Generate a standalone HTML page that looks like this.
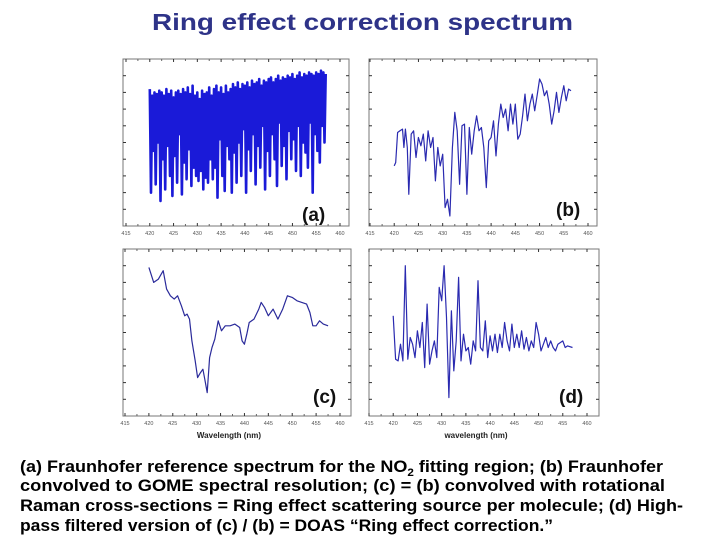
<!DOCTYPE html>
<html><head><meta charset="utf-8"><style>
html,body{margin:0;padding:0;background:#fff;width:720px;height:540px;overflow:hidden}
svg{display:block;font-family:"Liberation Sans",sans-serif}
</style></head><body>
<svg id="root" width="720" height="540" viewBox="0 0 720 540">
<text x="152" y="30" font-size="23" font-weight="bold" fill="#2e3388" textLength="421" lengthAdjust="spacingAndGlyphs">Ring effect correction spectrum</text>
<g id="panels"></g>
<g font-weight="bold" font-size="17" fill="#000">
<text x="20" y="472" textLength="643" lengthAdjust="spacingAndGlyphs">(a) Fraunhofer reference spectrum for the NO<tspan font-size="11" dy="4">2</tspan><tspan dy="-4"> fitting region; (b) Fraunhofer</tspan></text>
<text x="20" y="491" textLength="645" lengthAdjust="spacingAndGlyphs">convolved to GOME spectral resolution; (c) = (b) convolved with rotational</text>
<text x="20" y="511" textLength="663" lengthAdjust="spacingAndGlyphs">Raman cross-sections = Ring effect scattering source per molecule; (d) High-</text>
<text x="20" y="531" textLength="533" lengthAdjust="spacingAndGlyphs">pass filtered version of (c) / (b) = DOAS “Ring effect correction.”</text>
</g>
</svg>
<script>
// ---- data ----
var tickLabels = [415,420,425,430,435,440,445,450,455,460];
// (a) Fraunhofer reference: wavelengths every 0.25 nm from 420, relative values 0-100
var aStart = 420, aStep = 0.25;
var aValues = [82,20,78,45,80,25,79,50,81,15,80,40,78,22,82,48,79,30,81,18,77,42,80,26,81,55,79,19,82,38,80,28,83,46,79,24,84,35,78,30,80,27,76,33,81,22,79,29,80,26,83,40,78,28,82,35,84,17,80,52,83,30,79,21,84,48,80,40,82,20,85,44,83,26,86,50,82,30,85,58,84,20,86,46,83,33,87,55,85,25,86,48,88,35,84,60,87,22,86,45,88,30,89,55,86,40,88,24,90,62,87,36,89,48,88,28,90,57,89,40,91,52,88,33,90,60,92,30,89,50,91,44,90,35,92,62,91,20,90,55,92,45,91,38,93,60,92,50,91];
// (b) convolved Fraunhofer
var bX = [420,420.3,420.7,421.2,421.7,422,422.3,422.7,423,423.5,424,424.5,425,425.5,426,426.5,427,427.5,428,428.5,429,429.5,430,430.5,431,431.5,432,432.5,433,433.5,434,434.5,435,435.5,436,436.5,437,437.5,438,438.5,439,439.5,440,440.5,441,441.5,442,442.5,443,443.5,444,444.5,445,445.5,446,446.5,447,447.5,448,448.5,449,449.5,450,450.5,451,451.5,452,452.5,453,453.5,454,454.5,455,455.5,456,456.5];
var bY = [36,38,56,57,58,47,58,47,19,55,57,41,53,48,55,39,57,47,53,27,47,36,43,11,16,6,47,68,57,25,60,61,19,59,43,57,66,57,59,47,23,51,53,63,42,61,73,65,70,57,73,61,73,52,55,66,79,63,73,79,69,78,88,85,78,81,73,61,69,80,68,77,84,75,82,81];
// (c) Ring source spectrum
var cX = [420,421,422,423,423.7,424.5,425.3,426,426.8,427.5,428,428.5,429,429.7,430.2,430.8,431.3,431.7,432.2,432.7,433.2,433.8,434.5,435.2,436,437,438,439,439.5,440,440.5,441,442,443,443.5,444.2,445,446,447,448,449,450,451,452,453,453.7,454.3,455,455.7,456.5,457.5];
var cY = [89,80,82,87,76,72,70,72,66,60,61,58,45,33,23,26,28,22,14,35,41,46,57,51,54,54,55,53,45,43,49,56,58,64,68,65,60,64,58,64,72,71,69,68,67,62,54,54,57,55,54];
// (d) Ring correction
var dX = [420,420.5,421,421.5,422,422.5,423,423.5,424,424.5,425,425.5,426,426.5,427,427.5,428,428.5,429,429.5,430,430.5,431,431.5,432,432.5,433,433.5,434,434.5,435,435.5,436,436.5,437,437.5,438,438.5,439,439.5,440,440.5,441,441.5,442,442.5,443,443.5,444,444.5,445,445.5,446,446.5,447,447.5,448,448.5,449,449.5,450,450.5,451,451.5,452,452.5,453,453.5,454,455,455.5,456,457];
var dY = [60,34,33,43,33,90,34,47,43,35,51,41,56,29,67,31,39,45,35,77,69,90,59,11,63,27,45,83,33,49,39,41,31,45,39,81,41,39,57,35,48,39,49,38,49,41,56,45,39,55,41,49,41,51,40,47,39,45,41,56,49,39,43,47,41,45,41,39,43,45,41,42,41];

var NS = 'http://www.w3.org/2000/svg';
var root = document.getElementById('panels');
function mk(tag, attrs, parent){var e=document.createElementNS(NS,tag);for(var k in attrs)e.setAttribute(k,attrs[k]);(parent||root).appendChild(e);return e;}

var panels = [
 {id:'a', L:123,R:349,T:59,B:226, x0:126,x1:340, label:'(a)', lx:302, ly:221},
 {id:'b', L:369,R:597,T:59,B:226, x0:370,x1:588, label:'(b)', lx:556, ly:216},
 {id:'c', L:123,R:351,T:249,B:416, x0:125,x1:340, label:'(c)', lx:313, ly:403, xlab:'Wavelength (nm)'},
 {id:'d', L:369,R:599,T:249,B:416, x0:369,x1:587, label:'(d)', lx:559, ly:403, xlab:'wavelength (nm)'}
];

function drawPanel(p){
  var g = mk('g',{});
  
  
  var xs = function(v){return p.x0 + (v-415)/(460-415)*(p.x1-p.x0);};
  var ys = function(v){return p.B - v/100*(p.B-p.T);};
  p.xs = xs; p.ys = ys;
  var box = mk('rect',{x:p.L,y:p.T,width:p.R-p.L,height:p.B-p.T,fill:'none',stroke:'#777','stroke-width':1},g);
  
  
  for(var i=0;i<tickLabels.length;i++){
    var x = xs(tickLabels[i]);
    mk('line',{x1:x,x2:x,y1:p.B,y2:p.B-3,stroke:'#333','stroke-width':1},g);
    mk('line',{x1:x,x2:x,y1:p.T,y2:p.T+3,stroke:'#333','stroke-width':1},g);
    if(i<tickLabels.length-1){var xm=xs(tickLabels[i]+2.5);
      mk('line',{x1:xm,x2:xm,y1:p.T,y2:p.T+2,stroke:'#666','stroke-width':1},g);
      mk('line',{x1:xm,x2:xm,y1:p.B,y2:p.B-2,stroke:'#666','stroke-width':1},g);}
    var t = mk('text',{x:x,y:p.B+9,'font-size':5.5,'text-anchor':'middle',fill:'#555'},g);
    t.textContent = tickLabels[i];
    
    
  }
  for(var j=1;j<10;j++){
    var y = p.B - j*(p.B-p.T)/10;
    mk('line',{x1:p.L,x2:p.L+3,y1:y,y2:y,stroke:'#333','stroke-width':1},g);
    mk('line',{x1:p.R,x2:p.R-3,y1:y,y2:y,stroke:'#333','stroke-width':1},g);
  }
  var lab = mk('text',{x:p.lx,y:p.ly,'font-size':19,'font-weight':'bold',fill:'#111'},g);
  lab.textContent = p.label;
  
  
  if(p.xlab){
    var xl = mk('text',{x:(p.L+p.R)/2-8,y:p.B+22,'font-size':8,'font-weight':'bold','text-anchor':'middle',fill:'#222'},g);
    xl.textContent = p.xlab;
    
    
  }
  return g;
}

function series(p, xsArr, ysArr, color, width, name){
  var d='';
  for(var i=0;i<ysArr.length;i++){d += (i?'L':'M')+p.xs(xsArr[i]).toFixed(1)+' '+p.ys(ysArr[i]).toFixed(1);}
  var path = mk('path',{d:d,fill:'none',stroke:color,'stroke-width':width,'stroke-linejoin':'round'});
  
  
}

for(var k=0;k<panels.length;k++) drawPanel(panels[k]);
var aX = aValues.map(function(v,i){return aStart+i*aStep;});
series(panels[0], aX, aValues, '#1a1ad8', 2.6, 'series-fraunhofer-reference');
series(panels[1], bX, bY, '#2a2ab0', 1.2, 'series-fraunhofer-convolved');
series(panels[2], cX, cY, '#2a2a9a', 1.2, 'series-ring-source');
series(panels[3], dX, dY, '#2a2ab0', 1.2, 'series-ring-correction');
</script>
</body></html>
